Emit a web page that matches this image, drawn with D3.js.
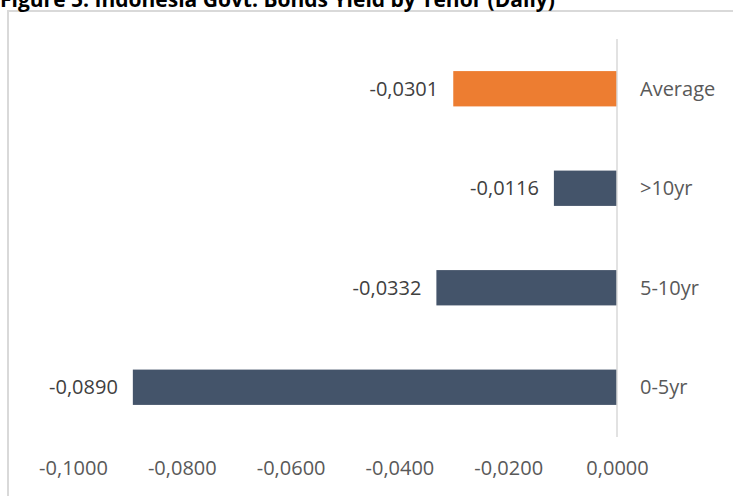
<!DOCTYPE html>
<html>
<head>
<meta charset="utf-8">
<script src="https://cdn.jsdelivr.net/npm/d3@7"></script>
<style>
  body { margin: 0; background: #fff; }
  text { font-family: "Open Sans", sans-serif; }
</style>
</head>
<body>
<div class="main-graph"></div>
<script>
// data, top to bottom as in the picture
var tenors = ["Average", ">10yr", "5-10yr", "0-5yr"];
var yields = [-0.0301, -0.0116, -0.0332, -0.0890];
var barColors = ["#ed7d31", "#44546a", "#44546a", "#44546a"];
var xTicks = [-0.1, -0.08, -0.06, -0.04, -0.02, 0];
var title = "Figure 5. Indonesia Govt. Bonds Yield by Tenor (Daily)";

var W = 733, H = 496;
var margin = {top: 39, right: 116, bottom: 59, left: 73};

var svg = d3.select(".main-graph")
            .append("svg")
            .attr("width", W)
            .attr("height", H);

// chart frame (runs off right and bottom)
svg.append("rect")
   .attr("x", 8).attr("y", 11)
   .attr("width", 760).attr("height", 520)
   .attr("fill", "none")
   .attr("stroke", "#d9d9d9")
   .attr("stroke-width", 2);

// title, mostly cut off at top like the source
svg.append("text")
   .attr("x", 0).attr("y", 7)
   .style("font-weight", "bold")
   .style("font-size", "21px")
   .attr("fill", "#000")
   .text(title);

var loc = d3.formatLocale({decimal: ",", thousands: ".", grouping: [3], currency: ["", ""], minus: "-"});
var fmt = loc.format(".4f");

var x = d3.scaleLinear()
          .domain([-0.1, 0])
          .range([margin.left, W - margin.right]);

var y = d3.scaleBand()
          .domain(tenors)
          .range([margin.top, H - margin.bottom])
          .paddingInner(0.645)
          .paddingOuter(0.3225);

// bars
svg.selectAll(".bar")
   .data(tenors)
   .enter().append("rect")
   .attr("class", "bar")
   .attr("x", function(d, i){ return x(yields[i]); })
   .attr("y", function(d){ return y(d); })
   .attr("width", function(d, i){ return x(0) - x(yields[i]); })
   .attr("height", y.bandwidth())
   .attr("fill", function(d, i){ return barColors[i]; });

// zero line
svg.append("line")
   .attr("x1", x(0)).attr("x2", x(0))
   .attr("y1", margin.top).attr("y2", H - margin.bottom)
   .attr("stroke", "#d9d9d9")
   .attr("stroke-width", 1.5);

// data labels
svg.selectAll(".lbl")
   .data(tenors)
   .enter().append("text")
   .attr("class", "lbl")
   .attr("x", function(d, i){ return x(yields[i]) - 15; })
   .attr("y", function(d){ return y(d) + y.bandwidth() / 2; })
   .attr("dy", "0.35em")
   .attr("text-anchor", "end")
   .style("font-size", "20px")
   .attr("fill", "#404040")
   .text(function(d, i){ return fmt(yields[i]); });

// category labels right of zero
svg.selectAll(".cat")
   .data(tenors)
   .enter().append("text")
   .attr("class", "cat")
   .attr("x", x(0) + 23)
   .attr("y", function(d){ return y(d) + y.bandwidth() / 2; })
   .attr("dy", "0.35em")
   .style("font-size", "20px")
   .attr("fill", "#595959")
   .text(function(d){ return d; });

// x axis labels
var xAxis = svg.append("g")
   .attr("transform", "translate(0," + (H - margin.bottom) + ")")
   .call(d3.axisBottom(x)
           .tickValues(xTicks)
           .tickSize(0)
           .tickPadding(24)
           .tickFormat(fmt));
xAxis.select(".domain").remove();
xAxis.selectAll("text")
     .style("font-family", "Open Sans, sans-serif")
     .style("font-size", "20px")
     .attr("fill", "#595959");
</script>
</body>
</html>
